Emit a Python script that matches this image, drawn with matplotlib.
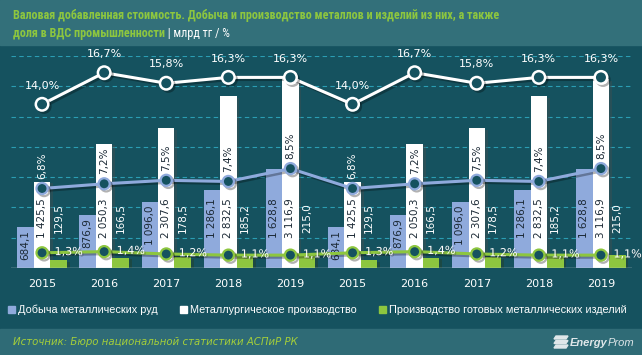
import matplotlib
matplotlib.use('Agg')
import matplotlib.pyplot as plt
import matplotlib.patches as mpatches
import matplotlib.patheffects as pe
import numpy as np

# data
years = ['2015', '2016', '2017', '2018', '2019', '2015', '2016', '2017', '2018', '2019']
mining = [684.1, 876.9, 1096.0, 1286.1, 1628.8, 684.1, 876.9, 1096.0, 1286.1, 1628.8]
metallurgy = [1425.5, 2050.3, 2307.6, 2832.5, 3116.9, 1425.5, 2050.3, 2307.6, 2832.5, 3116.9]
products = [129.5, 166.5, 178.5, 185.2, 215.0, 129.5, 166.5, 178.5, 185.2, 215.0]
share_total = [14.0, 16.7, 15.8, 16.3, 16.3, 14.0, 16.7, 15.8, 16.3, 16.3]
share_metallurgy = [6.8, 7.2, 7.5, 7.4, 8.5, 6.8, 7.2, 7.5, 7.4, 8.5]
share_products = [1.3, 1.4, 1.2, 1.1, 1.1, 1.3, 1.4, 1.2, 1.1, 1.1]
legend_labels = ['Добыча металлических руд', 'Металлургическое производство',
                 'Производство готовых металлических изделий']

COLORS = {
    'bg': '#15525f',
    'band': '#33707a',
    'footer': '#2f6b76',
    'blue': '#8faadc',
    'white': '#ffffff',
    'green': '#8dc63f',
    'grid': '#2b9db3',
    'title': '#8dc63f',
    'dark': '#1c2a36',
    'logo': '#dfe7e9',
}

W, H = 642, 355
Y1MAX = 3500
Y2MAX = 18.13


def fmt(v):
    return f'{v:,.1f}'.replace(',', ' ').replace('.', ',')


def pct(v):
    return f'{v:.1f}%'.replace('.', ',')


def fx(px):
    return px / W


def fy(py):
    return 1 - py / H


fig = plt.figure(figsize=(W / 100, H / 100), dpi=100)
fig.patch.set_facecolor(COLORS['bg'])
fig.add_artist(mpatches.Rectangle((0, fy(45)), 1, 45 / H, transform=fig.transFigure,
                                  color=COLORS['band'], zorder=0))
fig.add_artist(mpatches.Rectangle((0, 0), 1, 26 / H, transform=fig.transFigure,
                                  color=COLORS['footer'], zorder=0))

ax = fig.add_axes([fx(11), fy(268), (632 - 11) / W, (268 - 56) / H])
ax.set_facecolor('none')
ax2 = ax.twinx()

x = np.arange(len(years))
w = 0.265
shadow = [pe.SimplePatchShadow(offset=(2, -1), alpha=0.35), pe.Normal()]

b1 = ax.bar(x - w, mining, w, color=COLORS['blue'], zorder=2)
b2 = ax.bar(x, metallurgy, w, color=COLORS['white'], zorder=2)
b3 = ax.bar(x + w, products, w, color=COLORS['green'], zorder=2)
for bars in (b1, b2, b3):
    for b in bars:
        b.set_path_effects(shadow)

ax.set_xlim(-0.5, 9.5)
ax.set_ylim(0, Y1MAX)
ax.set_yticks(np.arange(500, Y1MAX + 1, 500))
ax.yaxis.grid(True, color=COLORS['grid'], linestyle=(0, (4, 3)), linewidth=0.8)
ax.set_axisbelow(True)
ax.axhline(0, color='#c9d3d6', linewidth=1, zorder=3)
for a in (ax, ax2):
    for s in a.spines.values():
        s.set_visible(False)
ax.tick_params(axis='y', left=False, labelleft=False)
ax.set_xticks(x)
ax.set_xticklabels(years, color='white', fontsize=8)
ax.tick_params(axis='x', length=0, pad=8)

# bar value labels
for i in range(len(x)):
    ax.text(x[i] - w, min(mining[i] - 60, 1150), fmt(mining[i]), rotation=90,
            ha='center', va='top', fontsize=7.5, color=COLORS['dark'], zorder=4)
    ax.text(x[i], 495, fmt(metallurgy[i]), rotation=90,
            ha='center', va='bottom', fontsize=7.5, color=COLORS['dark'], zorder=4)
    ax.text(x[i] + w, 578, fmt(products[i]), rotation=90,
            ha='center', va='bottom', fontsize=7.5, color='white', zorder=4)

# share lines on the secondary axis
ax2.set_ylim(0, Y2MAX)
ax2.tick_params(axis='y', right=False, labelright=False)
line_shadow = [pe.SimpleLineShadow(offset=(1.5, -1.5), alpha=0.3), pe.Normal()]
ax2.plot(x, share_total, color='white', linewidth=2.2, marker='o', markersize=9,
         markerfacecolor=COLORS['bg'], markeredgecolor='white', markeredgewidth=1.8,
         clip_on=False, zorder=5, path_effects=line_shadow)
ax2.plot(x, share_metallurgy, color=COLORS['blue'], linewidth=2.2, marker='o', markersize=8,
         markerfacecolor=COLORS['bg'], markeredgecolor=COLORS['blue'], markeredgewidth=1.6,
         zorder=5, path_effects=line_shadow)
ax2.plot(x, share_products, color=COLORS['green'], linewidth=2.2, marker='o', markersize=8,
         markerfacecolor=COLORS['bg'], markeredgecolor=COLORS['green'], markeredgewidth=1.6,
         zorder=5, path_effects=line_shadow)

ratio = Y1MAX / Y2MAX
for i in range(len(x)):
    ax2.annotate(pct(share_total[i]), (x[i], share_total[i]),
                 xytext=(0, 13.5), textcoords='offset points', ha='center', va='center',
                 fontsize=8, color='white', annotation_clip=False, zorder=6)
    label_top = share_metallurgy[i] * ratio + 600
    col = COLORS['dark'] if metallurgy[i] >= label_top else 'white'
    ax2.annotate(pct(share_metallurgy[i]), (x[i], share_metallurgy[i]),
                 xytext=(0, 16.5), textcoords='offset points', ha='center', va='center',
                 rotation=90, fontsize=7.5, color=col, zorder=6)
    ax2.annotate(pct(share_products[i]), (x[i], share_products[i]),
                 xytext=(9, 0.5), textcoords='offset points', ha='left', va='center',
                 fontsize=8, color='white', zorder=6,
                 path_effects=[pe.SimplePatchShadow(offset=(1, -1), alpha=0.4), pe.Normal()])

# title
tfont = ['Roboto Condensed', 'Liberation Sans Narrow', 'Noto Sans']
fig.text(fx(13), fy(16), 'Валовая добавленная стоимость. Добыча и производство металлов и изделий из них, а также',
         color=COLORS['title'], fontsize=8.7, fontweight='bold', family=tfont, va='center')
t2 = fig.text(fx(13), fy(34), 'доля в ВДС промышленности', color=COLORS['title'], fontsize=8.7,
              fontweight='bold', family=tfont, va='center')
ax.annotate(' | млрд тг / %', xy=(1, 0.5), xycoords=t2, va='center', ha='left',
            color='white', fontsize=8.7, family=tfont, annotation_clip=False)

# legend
handles = [mpatches.Patch(color=c) for c in (COLORS['blue'], COLORS['white'], COLORS['green'])]
fig.legend(handles, legend_labels, loc='center left', bbox_to_anchor=(fx(8), fy(310)),
           ncol=3, frameon=False, prop={'family': 'Liberation Sans', 'size': 7.8},
           labelcolor='white', handlelength=0.65, handleheight=0.65, handletextpad=0.25,
           columnspacing=2.1, borderaxespad=0, borderpad=0)

# footer
fig.text(fx(13), fy(342), 'Источник: Бюро национальной статистики АСПиР РК', color='#a5cf3a',
         fontsize=7.3, style='italic', va='center')
for k in range(3):
    y0 = 336 + k * 4.5
    pts = [(556, y0), (568, y0), (566, y0 + 3), (554, y0 + 3)]
    fig.add_artist(mpatches.Polygon([(fx(px), fy(py)) for px, py in pts], closed=True,
                                    transform=fig.transFigure, color=COLORS['logo']))
tl = fig.text(fx(570), fy(343), 'Energy', color=COLORS['logo'], fontsize=8, fontweight='bold',
              style='italic', family='Liberation Sans', va='center')
ax.annotate('Prom', xy=(1, 0.5), xycoords=tl, va='center', ha='left', color=COLORS['logo'],
            fontsize=8, style='italic', family='Liberation Sans', annotation_clip=False)

fig.savefig('out.png', dpi=100, facecolor=fig.get_facecolor())
